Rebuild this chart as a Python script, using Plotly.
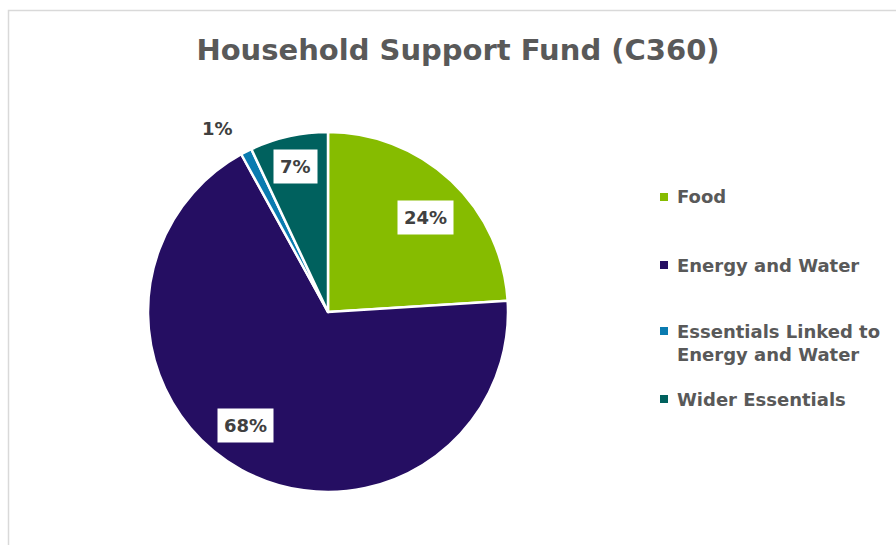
import math
import plotly.graph_objects as go

# Household Support Fund spend by category (share of total, %)
categories = ["Food", "Energy and Water", "Essentials Linked to Energy and Water", "Wider Essentials"]
legend_labels = ["Food", "Energy and Water", "Essentials Linked to<br>Energy and Water", "Wider Essentials"]
shares = [24, 68, 1, 7]
colors = ["#86BC00", "#250E62", "#0A7BB0", "#00615E"]

W, H = 896, 545
FONT = "DejaVu Sans"
GREY = "#595959"

# pie placement in pixels
cx, cy, R = 328, 312, 180

fig = go.Figure(go.Pie(
    labels=categories,
    values=shares,
    sort=False,
    direction="clockwise",
    rotation=0,
    marker=dict(colors=colors, line=dict(color="white", width=2.5)),
    textinfo="none",
    hoverinfo="label+percent",
    showlegend=False,
    domain=dict(x=[(cx - R) / W, (cx + R) / W], y=[1 - (cy + R) / H, 1 - (cy - R) / H]),
))

# data labels placed at each slice's mid angle
label_radius = [0.755, 0.78, 1.19, 0.83]
label_nudge = [2.5, 7, -4, 0]
boxed = [True, True, False, True]
total = sum(shares)
cum = 0
for v, rf, nd, bx in zip(shares, label_radius, label_nudge, boxed):
    mid = (cum + v / 2) / total * 360 + nd
    cum += v
    px = cx + rf * R * math.sin(math.radians(mid))
    py = cy - rf * R * math.cos(math.radians(mid))
    pct = round(v / total * 100)
    fig.add_annotation(
        x=px / W, y=1 - py / H, xref="paper", yref="paper",
        text=f"<b>{pct}%</b>", showarrow=False,
        font=dict(family=FONT, size=18, color="#404040"),
        bgcolor="white" if bx else "rgba(0,0,0,0)",
        borderpad=6 if bx else 0,
        xanchor="center", yanchor="middle",
    )

# legend drawn as square keys plus text (key sits beside the first line)
legend_y = [197, 265, 343, 399]
key_x, text_x, key = 664, 675, 8
for lab, col, ly in zip(legend_labels, colors, legend_y):
    ky = ly - (12 if "<br>" in lab else 0)
    fig.add_shape(
        type="rect", xref="paper", yref="paper",
        x0=(key_x - key / 2) / W, x1=(key_x + key / 2) / W,
        y0=1 - (ky + key / 2) / H, y1=1 - (ky - key / 2) / H,
        fillcolor=col, line=dict(width=0),
    )
    fig.add_annotation(
        x=text_x / W, y=1 - ly / H, xref="paper", yref="paper",
        text=f"<b>{lab}</b>", showarrow=False, align="left",
        font=dict(family=FONT, size=18, color=GREY),
        xanchor="left", yanchor="middle",
    )

# chart frame
fig.add_shape(type="rect", xref="paper", yref="paper",
              x0=8.5 / W, x1=1.2, y0=-0.2, y1=1 - 10.5 / H,
              line=dict(color="#D9D9D9", width=1.5), fillcolor="rgba(0,0,0,0)", layer="below")

fig.update_layout(
    width=W, height=H,
    margin=dict(l=0, r=0, t=0, b=0),
    paper_bgcolor="white", plot_bgcolor="white",
    title=dict(text="<b>Household Support Fund (C360)</b>", x=458 / W, xanchor="center",
               y=1 - 50 / H, yanchor="middle",
               font=dict(family=FONT, size=29, color=GREY)),
)

fig.write_html("out.html")
